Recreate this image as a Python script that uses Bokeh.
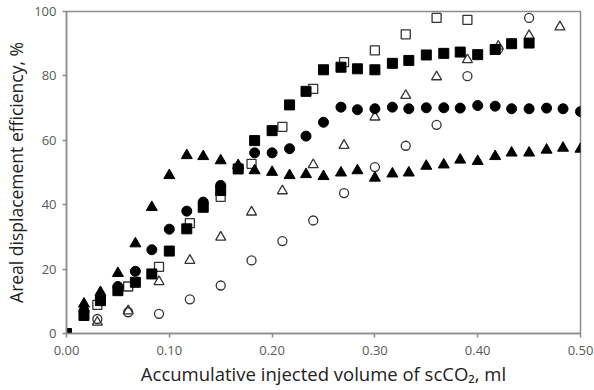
from bokeh.plotting import figure
from bokeh.models import NumeralTickFormatter, FixedTicker, Range1d
from bokeh.embed import file_html
from bokeh.resources import INLINE

# Filled squares
fsq_x = [0, 0.017, 0.033, 0.05, 0.067, 0.083, 0.1, 0.117, 0.133, 0.15, 0.167, 0.183, 0.2, 0.217,
         0.233, 0.25, 0.267, 0.283, 0.3, 0.317, 0.333, 0.35, 0.367, 0.383, 0.4, 0.417, 0.433, 0.45]
fsq_y = [0, 5.6, 10.2, 13.3, 15.9, 18.5, 25.6, 32.5, 39.2, 44.4, 51.1, 59.9, 63.0, 71.0,
         75.2, 81.9, 82.7, 82.2, 81.9, 83.9, 84.8, 86.5, 87.0, 87.4, 86.6, 88.2, 90.0, 90.2]

# Filled circles
fci_x = [0.017, 0.033, 0.05, 0.067, 0.083, 0.1, 0.117, 0.133, 0.15, 0.167, 0.183, 0.2, 0.217, 0.233, 0.25,
         0.267, 0.283, 0.3, 0.317, 0.333, 0.35, 0.367, 0.383, 0.4, 0.417, 0.433, 0.45, 0.467, 0.483, 0.5]
fci_y = [7.0, 11.0, 14.6, 19.3, 26.0, 32.4, 38.0, 40.8, 46.0, 51.5, 56.1, 56.1, 57.4, 61.3, 65.6,
         70.3, 69.5, 69.8, 70.3, 69.8, 70.1, 70.1, 70.0, 70.8, 70.6, 69.8, 69.8, 70.0, 69.8, 68.9]

# Filled triangles
ftr_x = fci_x
ftr_y = [9.2, 12.8, 18.7, 27.9, 39.2, 49.1, 55.3, 55.0, 53.7, 52.2, 50.6, 50.1, 49.1, 49.4, 48.8,
         49.9, 50.6, 48.3, 49.6, 49.9, 52.0, 52.4, 53.9, 53.5, 55.0, 56.1, 56.1, 57.0, 57.6, 57.3]

# Open squares
osq_x = [0.03, 0.06, 0.09, 0.12, 0.15, 0.18, 0.21, 0.24, 0.27, 0.30, 0.33, 0.36, 0.39]
osq_y = [8.9, 14.6, 20.7, 34.3, 42.4, 52.7, 64.2, 76.0, 84.3, 87.9, 92.9, 98.0, 97.4]

# Open circles
oci_x = [0.03, 0.06, 0.09, 0.12, 0.15, 0.18, 0.21, 0.24, 0.27, 0.30, 0.33, 0.36, 0.39, 0.42, 0.45]
oci_y = [4.5, 6.6, 6.1, 10.6, 14.9, 22.7, 28.7, 35.1, 43.6, 51.7, 58.3, 64.8, 79.9, 88.4, 98.0]

# Open triangles
otr_x = [0.03, 0.06, 0.09, 0.12, 0.15, 0.18, 0.21, 0.24, 0.27, 0.30, 0.33, 0.36, 0.39, 0.42, 0.45, 0.48]
otr_y = [3.5, 7.0, 16.1, 22.7, 29.9, 37.7, 44.3, 52.4, 58.4, 67.2, 73.9, 79.7, 85.0, 89.2, 92.5, 95.2]

x_ticks = [0, 0.1, 0.2, 0.3, 0.4, 0.5]
y_ticks = [0, 20, 40, 60, 80, 100]

p = figure(width=594, height=390, output_backend="svg", toolbar_location=None,
           x_range=Range1d(0, 0.5), y_range=Range1d(0, 100),
           min_border_left=66, min_border_right=14, min_border_top=11, min_border_bottom=57)
p.grid.visible = False
p.outline_line_color = "#8c8c8c"
p.outline_line_width = 1.5
p.background_fill_color = "white"
p.border_fill_color = "white"

for ax in (p.xaxis[0], p.yaxis[0]):
    ax.axis_line_color = "#8c8c8c"
    ax.axis_line_width = 1.5
    ax.major_tick_line_color = "#8c8c8c"
    ax.major_tick_line_width = 1.5
    ax.major_tick_out = 4
    ax.major_tick_in = 0
    ax.minor_tick_line_color = None
    ax.major_label_text_font = "Open Sans"
    ax.major_label_text_font_size = "13px"
    ax.major_label_text_color = "#595959"
    ax.axis_label_text_font = "Open Sans"
    ax.axis_label_text_font_style = "normal"
    ax.axis_label_text_color = "#222222"

p.xaxis.axis_label_text_font_size = "18.5px"
p.yaxis.axis_label_text_font_size = "17.5px"
p.xaxis.ticker = FixedTicker(ticks=x_ticks)
p.yaxis.ticker = FixedTicker(ticks=y_ticks)
p.xaxis.formatter = NumeralTickFormatter(format="0.00")
p.xaxis.axis_label = "Accumulative injected volume of scCO\u2082, ml"
p.yaxis.axis_label = "Areal displacement efficiency, %"
p.xaxis.major_label_standoff = 8
p.yaxis.major_label_standoff = 6
p.xaxis.axis_label_standoff = 3
p.yaxis.axis_label_standoff = 3

p.scatter(oci_x, oci_y, marker="circle", size=9, fill_color=None, line_color="#333333", line_width=1.3)
p.scatter(otr_x, otr_y, marker="triangle", size=10, fill_color=None, line_color="#333333", line_width=1.3)
p.scatter(osq_x, osq_y, marker="square", size=9, fill_color=None, line_color="#333333", line_width=1.3)
p.scatter(fsq_x, fsq_y, marker="square", size=10, fill_color="black", line_color="black")
p.scatter(ftr_x, ftr_y, marker="triangle", size=11, fill_color="black", line_color="black")
p.scatter(fci_x, fci_y, marker="circle", size=10, fill_color="black", line_color="black")

open("out.html", "w").write(file_html(p, INLINE))
